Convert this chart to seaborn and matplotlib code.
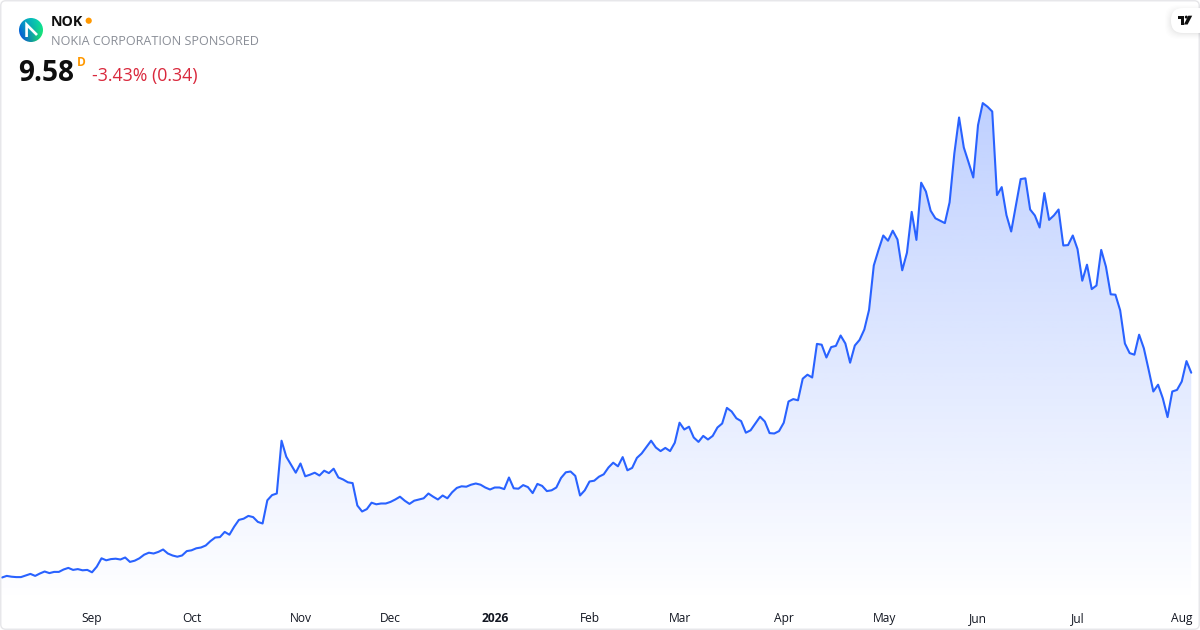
import numpy as np
import pandas as pd
import matplotlib
matplotlib.use("Agg")
import matplotlib.pyplot as plt
from matplotlib.patches import FancyBboxPatch, Circle, Polygon
import seaborn as sns

ticker = "NOK"
company = "NOKIA CORPORATION SPONSORED"
last_price = "9.58"
interval = "D"
change_text = "-3.43% (0.34)"

close = [
    4.46, 4.50, 4.48, 4.47, 4.47, 4.51, 4.55, 4.50, 4.56, 4.61, 4.57, 4.60, 4.60, 4.66, 4.70, 4.65, 4.67, 4.64,
    4.65, 4.59, 4.73, 4.94, 4.89, 4.92, 4.93, 4.91, 4.96, 4.85, 4.88, 4.94, 5.03, 5.08, 5.06, 5.10, 5.16, 5.06,
    5.01, 4.98, 5.01, 5.12, 5.14, 5.19, 5.21, 5.26, 5.37, 5.46, 5.47, 5.60, 5.53, 5.73, 5.90, 5.93, 6.00, 5.97,
    5.85, 5.81, 6.39, 6.52, 6.56, 7.88, 7.48, 7.28, 7.08, 7.31, 6.99, 7.03, 7.08, 7.01, 7.13, 7.07, 7.18, 6.96,
    6.91, 6.84, 6.82, 6.26, 6.11, 6.17, 6.33, 6.29, 6.31, 6.31, 6.35, 6.41,
    6.48, 6.38, 6.30, 6.38, 6.41, 6.44, 6.56, 6.48, 6.41, 6.51, 6.44, 6.59, 6.70, 6.74, 6.73, 6.78, 6.81, 6.78,
    6.71, 6.66, 6.71, 6.71, 6.67, 6.96, 6.69, 6.68, 6.77, 6.72, 6.57, 6.80, 6.75, 6.62, 6.64, 6.71, 6.95, 7.09,
    7.11, 7.00, 6.51, 6.64, 6.86, 6.88, 6.98, 7.04, 7.21, 7.33, 7.24, 7.47, 7.14, 7.20, 7.45, 7.56, 7.72, 7.88,
    7.71, 7.62, 7.70, 7.62, 7.83, 8.33, 8.16, 8.23, 7.96, 7.85, 8.00, 7.91, 8.00, 8.21, 8.31, 8.70, 8.61, 8.44,
    8.37, 8.08, 8.14, 8.31, 8.48, 8.36, 8.07, 8.06, 8.12, 8.33,
    8.86, 8.92, 8.89, 9.43, 9.53, 9.46, 10.30, 10.28, 9.96, 10.22, 10.25, 10.51, 10.31, 9.83, 10.26, 10.40,
    10.66, 11.15, 12.26, 12.65, 13.01, 12.88, 13.13, 12.91, 12.14, 12.58, 13.60, 12.90, 14.33, 14.11, 13.63,
    13.44, 13.38, 13.32, 13.84, 15.06, 15.96, 15.21, 14.84, 14.46, 15.77, 16.32, 16.23, 16.11, 14.02, 14.22,
    13.52, 13.11, 13.77, 14.42, 14.44, 13.66, 13.51, 13.21, 14.07, 13.40, 13.51, 13.66, 12.76, 12.77, 13.01,
    12.67, 11.88, 12.28, 11.67, 11.76, 12.65, 12.23, 11.54, 11.53, 11.14, 10.31, 10.07, 10.03, 10.53, 10.19,
    9.66, 9.11, 9.28, 8.94, 8.47, 9.11, 9.15, 9.36, 9.87, 9.58,
]
tick_sessions = [19, 40, 63, 82, 104, 124, 143, 165, 186.2, 206, 227, 249]
tick_labels = ["Sep", "Oct", "Nov", "Dec", "2026", "Feb", "Mar", "Apr", "May", "Jun", "Jul", "Aug"]
price_floor = 3.85
price_top = 16.35

sns.set_theme(style="white")
plt.rcParams["font.family"] = ["Open Sans", "Noto Sans", "DejaVu Sans"]

fig = plt.figure(figsize=(12, 6.3), dpi=100, facecolor="white")
ax = fig.add_axes([0, 0, 1, 1], facecolor="none")
df = pd.DataFrame({"session": np.arange(len(close)), "close": close})

# gradient area
fill = ax.fill_between(df["session"], df["close"], price_floor, facecolor="none", edgecolor="none")
grad = np.zeros((256, 2, 4))
grad[..., 0], grad[..., 1], grad[..., 2] = 41 / 255, 98 / 255, 1.0
grad[..., 3] = np.linspace(0.30, 0.0, 256)[:, None]
im = ax.imshow(grad, extent=[0, len(close) - 1, price_floor, price_top], origin="upper",
               aspect="auto", zorder=1, interpolation="bilinear")
im.set_clip_path(fill.get_paths()[0], transform=ax.transData)

sns.lineplot(data=df, x="session", y="close", ax=ax, color="#2962FF", linewidth=1.5, zorder=3, errorbar=None)

ax.set_xlim(-0.422, 252.85)
ax.set_ylim(3.1475, 18.8975)
ax.set_xlabel("")
ax.set_ylabel("")
ax.set_yticks([])
ax.set_xticks(tick_sessions)
ax.set_xticklabels(tick_labels, fontsize=8.64, color="#131722")
ax.get_xticklabels()[4].set_fontweight("bold")
ax.tick_params(axis="x", length=0, pad=-13.2)
for lab in ax.get_xticklabels():
    lab.set_va("top")
for s in ax.spines.values():
    s.set_visible(False)

# overlay in pixel space for header decorations
ov = fig.add_axes([0, 0, 1, 1], facecolor="none", zorder=5)
ov.set_xlim(0, 1200)
ov.set_ylim(630, 0)
ov.axis("off")

ov.add_patch(FancyBboxPatch((0.75, 0.75), 1198.5, 628.5, boxstyle="round,pad=0,rounding_size=5",
                            fc="none", ec="#e6e6e9", lw=1.0, zorder=1))

# logo
xx, yy = np.meshgrid(np.linspace(0, 1, 48), np.linspace(0, 1, 48))
xx, yy = xx[..., None], yy[..., None]
c_tl = np.array([5, 150, 200]) / 255
c_tr = np.array([10, 225, 170]) / 255
c_bl = np.array([5, 60, 230]) / 255
c_br = np.array([30, 235, 90]) / 255
logo = (c_tl * (1 - xx) + c_tr * xx) * (1 - yy) + (c_bl * (1 - xx) + c_br * xx) * yy
li = ov.imshow(logo, extent=[19, 43, 42, 18], aspect="auto", zorder=2, interpolation="bilinear")
li.set_clip_path(Circle((31, 30), 12, transform=ov.transData))
ov.set_xlim(0, 1200)
ov.set_ylim(630, 0)
ov.plot([26.6, 26.6, 37], [37, 24.6, 35], color="white", lw=1.9, solid_joinstyle="miter",
        solid_capstyle="butt", zorder=3)

# header text
ov.text(51, 26.3, ticker, fontsize=10.3, fontweight="bold", color="#0f0f0f", va="baseline", ha="left")
ov.add_patch(Circle((88.7, 20.7), 3.1, fc="#ff9800", ec="none"))
ov.text(51, 45.3, company, fontsize=9.1, color="#8a8e97", va="baseline", ha="left")
ov.text(18.4, 81, last_price, fontsize=20.2, fontweight="bold", color="#0f0f0f", va="baseline", ha="left")
ov.text(77, 66, interval, fontsize=8.6, fontweight="bold", color="#ff9800", va="baseline", ha="left")
ov.text(92, 81, change_text, fontsize=12.75, color="#d9283c", va="baseline", ha="left")

# TradingView badge
for i, a in enumerate([0.006, 0.008, 0.010, 0.012, 0.016, 0.020]):
    g = 6 - i
    ov.add_patch(FancyBboxPatch((1171 - g, 8 - g + 3), 40 + g, 25 + 2 * g - 3,
                                boxstyle="round,pad=0,rounding_size=13", fc="black", ec="none", alpha=a))
ov.add_patch(FancyBboxPatch((1171, 8), 40, 25, boxstyle="round,pad=0,rounding_size=12", fc="white", ec="none"))
ov.add_patch(Polygon([(1177.5, 15.7), (1184, 15.7), (1184, 24.5), (1180.6, 24.5), (1180.6, 18.5), (1177.5, 18.5)],
                     closed=True, fc="#0f0f0f", ec="none"))
ov.add_patch(Circle((1186.3, 17.1), 1.5, fc="#0f0f0f", ec="none"))
ov.add_patch(Polygon([(1188.3, 15.7), (1192.2, 15.7), (1187.6, 24.5), (1183.9, 24.5)], closed=True, fc="#0f0f0f", ec="none"))

fig.savefig("out.png", dpi=100)
